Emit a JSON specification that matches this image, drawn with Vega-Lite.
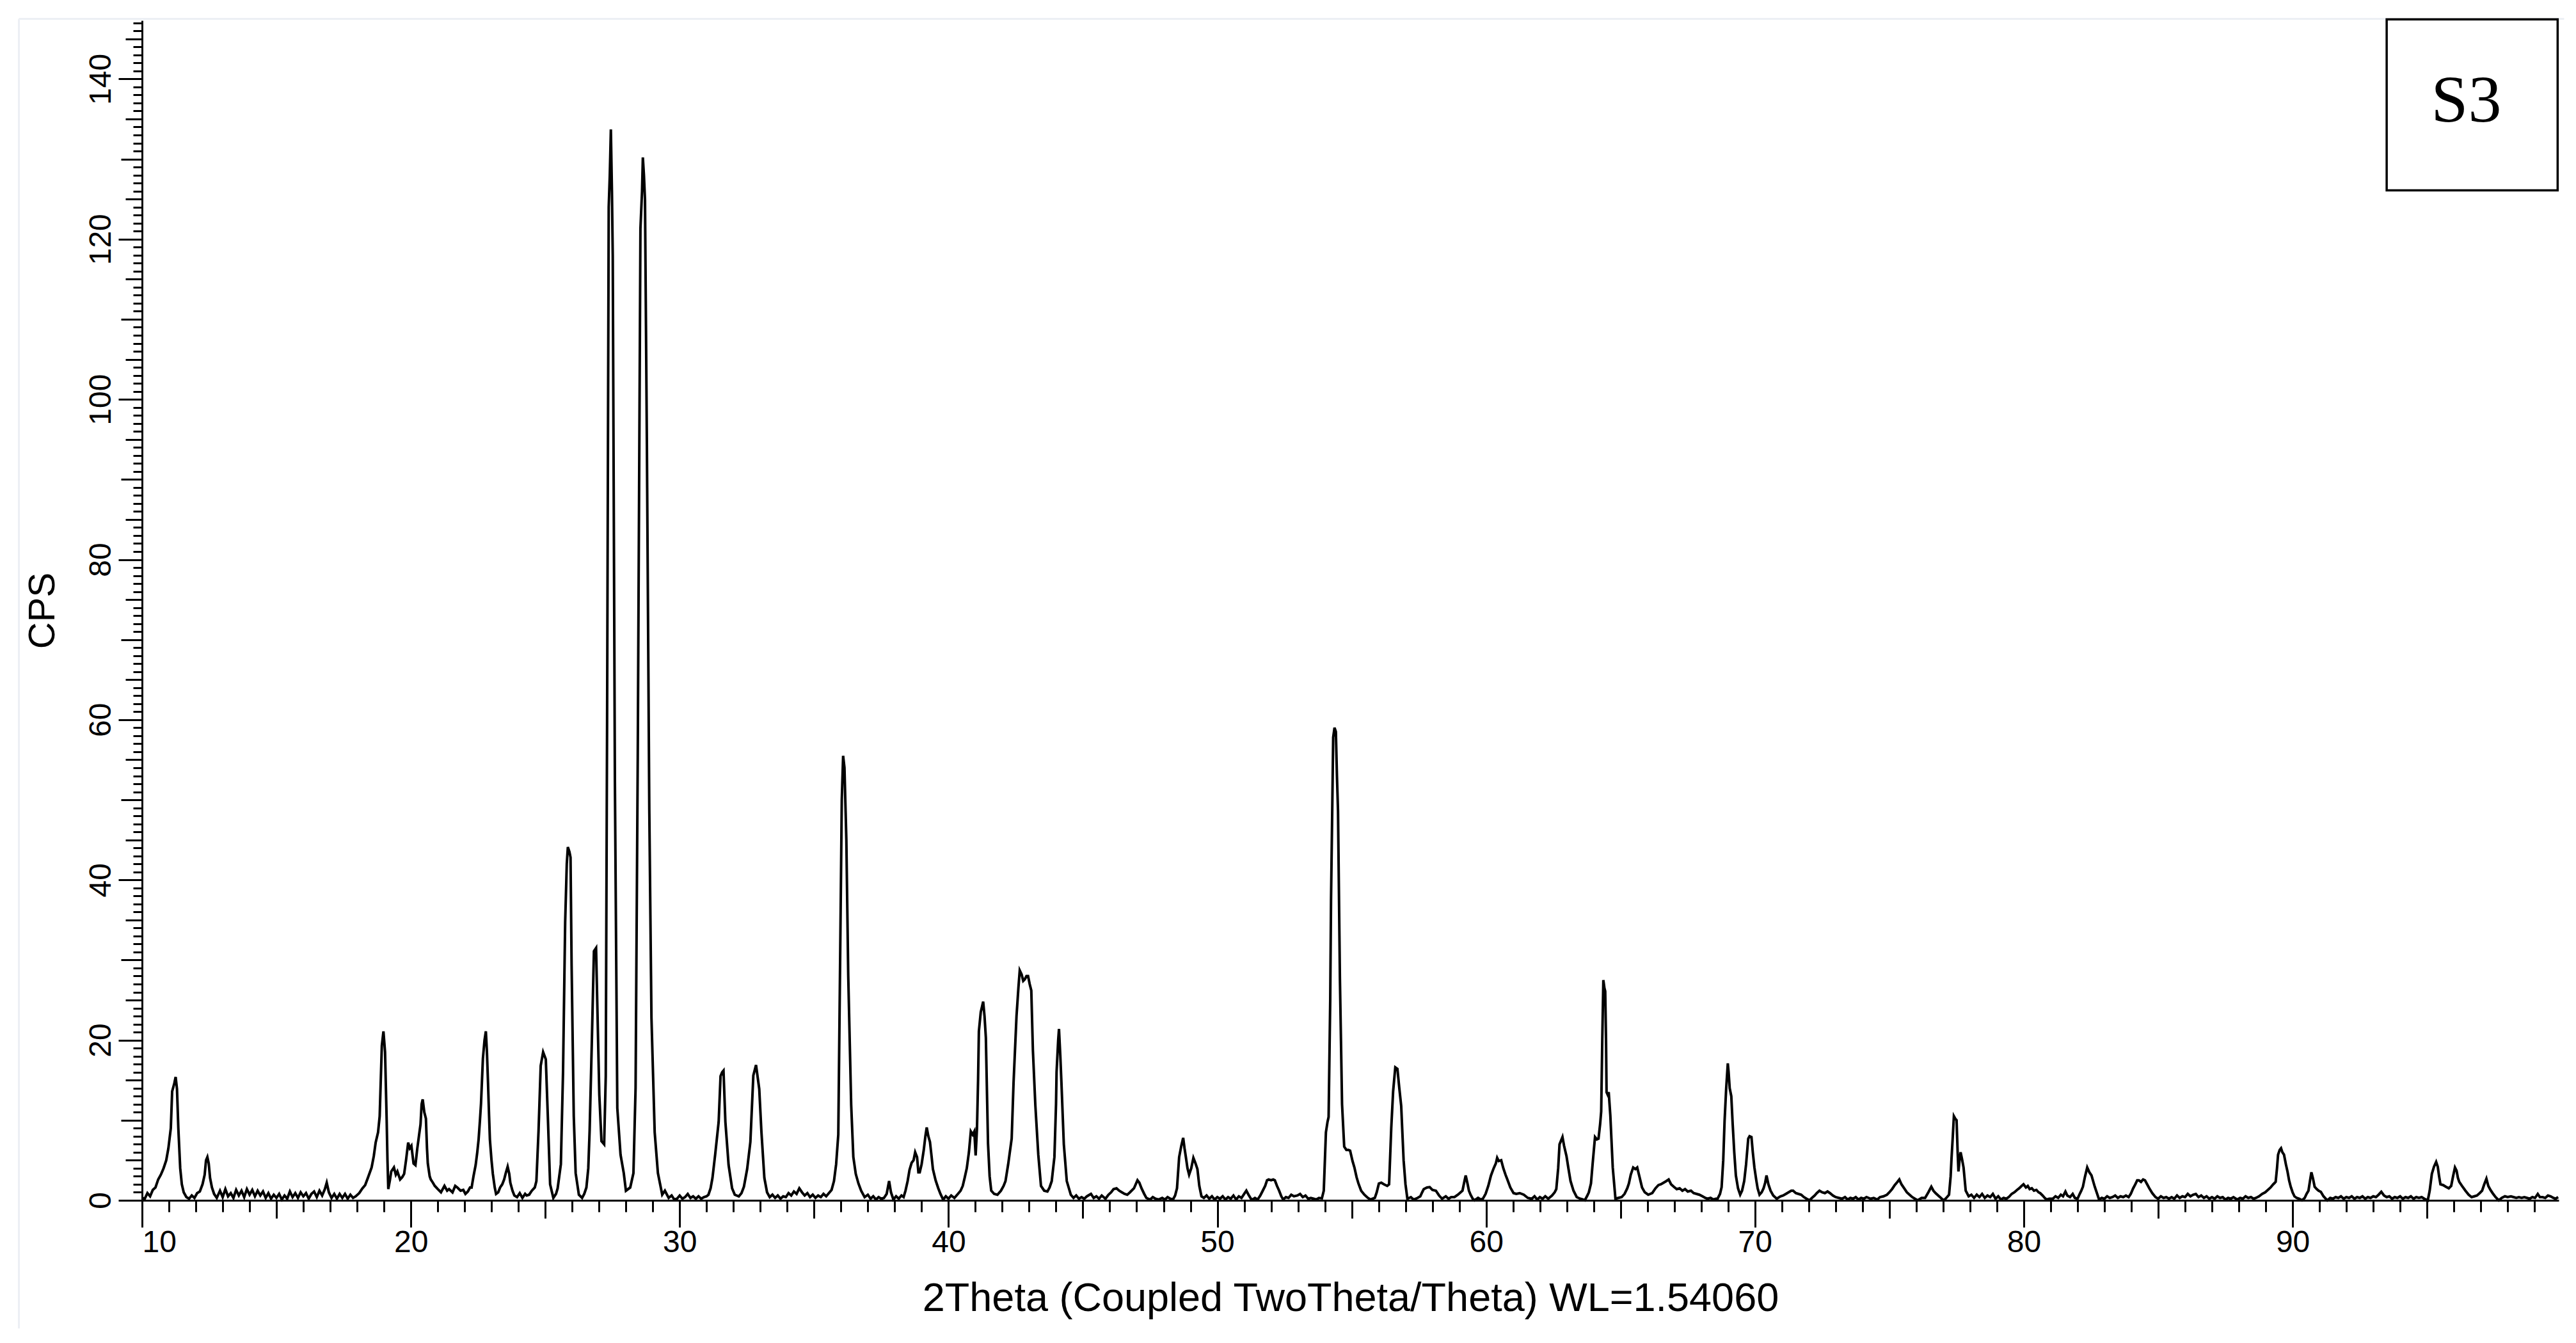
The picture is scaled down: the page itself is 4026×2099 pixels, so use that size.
{
  "$schema": "https://vega.github.io/schema/vega-lite/v6.json",
  "width": 3777,
  "height": 1844,
  "autosize": {"type": "none"},
  "padding": {"left": 222, "top": 32, "right": 27, "bottom": 223},
  "background": "white",
  "config": {"view": {"stroke": null}, "axis": {"grid": false}},
  "encoding": {
    "x": {
      "field": "x", "type": "quantitative",
      "scale": {"domain": [10, 99.9], "nice": false, "zero": false},
      "axis": {
        "values": [10,11,12,13,14,15,16,17,18,19,20,21,22,23,24,25,26,27,28,29,30,31,32,33,34,35,36,37,38,39,40,41,42,43,44,45,46,47,48,49,50,51,52,53,54,55,56,57,58,59,60,61,62,63,64,65,66,67,68,69,70,71,72,73,74,75,76,77,78,79,80,81,82,83,84,85,86,87,88,89,90,91,92,93,94,95,96,97,98,99],
        "domainColor": "black", "domainWidth": 3,
        "tickColor": "black", "tickWidth": 3,
        "tickSize": {"condition": [{"test": "datum.value % 10 === 0", "value": 42}, {"test": "datum.value % 5 === 0", "value": 28}], "value": 18},
        "labelExpr": "datum.value % 10 === 0 ? datum.label : ''",
        "labelAlign": {"condition": {"test": "datum.value === 10", "value": "left"}, "value": "center"},
        "labelBaseline": "top",
        "labelFont": "Liberation Sans, sans-serif",
        "labelFontSize": 48, "labelColor": "black",
        "labelPadding": 0, "labelOverlap": false, "labelFlush": false, "labelBound": false,
        "title": "2Theta (Coupled TwoTheta/Theta) WL=1.54060",
        "titleFont": "Liberation Sans, sans-serif", "titleFontSize": 63,
        "titleFontWeight": "normal", "titleColor": "black", "titlePadding": 32
      }
    },
    "y": {
      "field": "y", "type": "quantitative",
      "scale": {"domain": [0, 147.3], "nice": false, "zero": false},
      "axis": {
        "values": [0,1,2,3,4,5,6,7,8,9,10,11,12,13,14,15,16,17,18,19,20,21,22,23,24,25,26,27,28,29,30,31,32,33,34,35,36,37,38,39,40,41,42,43,44,45,46,47,48,49,50,51,52,53,54,55,56,57,58,59,60,61,62,63,64,65,66,67,68,69,70,71,72,73,74,75,76,77,78,79,80,81,82,83,84,85,86,87,88,89,90,91,92,93,94,95,96,97,98,99,100,101,102,103,104,105,106,107,108,109,110,111,112,113,114,115,116,117,118,119,120,121,122,123,124,125,126,127,128,129,130,131,132,133,134,135,136,137,138,139,140,141,142,143,144,145,146,147],
        "domainColor": "black", "domainWidth": 3,
        "tickColor": "black", "tickWidth": 3,
        "tickSize": {"condition": [{"test": "datum.value % 20 === 0", "value": 37}, {"test": "datum.value % 10 === 0", "value": 33}, {"test": "datum.value % 5 === 0", "value": 26}], "value": 14},
        "labelExpr": "datum.value % 20 === 0 ? datum.label : ''",
        "labelAngle": -90, "labelAlign": "center", "labelBaseline": "alphabetic",
        "labelFont": "Liberation Sans, sans-serif",
        "labelFontSize": 48, "labelColor": "black",
        "labelPadding": 13, "labelOverlap": false, "labelFlush": false, "labelBound": false,
        "title": "CPS",
        "titleFont": "Liberation Sans, sans-serif", "titleFontSize": 58,
        "titleFontWeight": "normal", "titleColor": "black", "titlePadding": 38
      }
    }
  },
  "layer": [
    {
      "data": {"values": [
        {"x": 5.42, "x2": 100.1, "y": 147.5, "y2": 147.5},
        {"x": 5.42, "x2": 5.42, "y": -16, "y2": 147.5}
      ]},
      "mark": {"type": "rule", "color": "#eceff4", "strokeWidth": 3, "clip": false},
      "encoding": {"x2": {"field": "x2"}, "y2": {"field": "y2"}}
    },
    {
      "data": {"values": [
{"x":10.00,"y":0.3},{"x":10.10,"y":0.2},{"x":10.20,"y":0.9},{"x":10.30,"y":0.5},{"x":10.40,"y":1.3},{"x":10.50,"y":1.6},{"x":10.60,"y":2.6},{"x":10.70,"y":3.2},{"x":10.80,"y":4.0},{"x":10.90,"y":5.0},{"x":10.98,"y":6.5},{"x":11.07,"y":9.0},{"x":11.12,"y":13.6},{"x":11.20,"y":14.6},{"x":11.25,"y":15.4},{"x":11.30,"y":13.9},{"x":11.35,"y":9.0},{"x":11.42,"y":4.0},{"x":11.48,"y":2.0},{"x":11.55,"y":1.0},{"x":11.65,"y":0.4},{"x":11.75,"y":0.2},{"x":11.85,"y":0.6},{"x":11.95,"y":0.3},{"x":12.05,"y":0.9},{"x":12.15,"y":1.1},{"x":12.25,"y":2.0},{"x":12.33,"y":3.2},{"x":12.38,"y":5.0},{"x":12.43,"y":5.4},{"x":12.48,"y":4.6},{"x":12.53,"y":2.8},{"x":12.60,"y":1.6},{"x":12.68,"y":0.8},{"x":12.78,"y":0.3},{"x":12.90,"y":1.2},{"x":13.00,"y":0.4},{"x":13.10,"y":1.4},{"x":13.20,"y":0.5},{"x":13.30,"y":0.9},{"x":13.40,"y":0.3},{"x":13.50,"y":1.3},{"x":13.60,"y":0.6},{"x":13.70,"y":1.2},{"x":13.80,"y":0.4},{"x":13.90,"y":1.4},{"x":14.00,"y":0.7},{"x":14.10,"y":1.3},{"x":14.20,"y":0.5},{"x":14.30,"y":1.2},{"x":14.40,"y":0.6},{"x":14.50,"y":1.1},{"x":14.60,"y":0.3},{"x":14.70,"y":0.9},{"x":14.80,"y":0.2},{"x":14.90,"y":0.7},{"x":15.00,"y":0.3},{"x":15.10,"y":0.8},{"x":15.20,"y":0.1},{"x":15.30,"y":0.6},{"x":15.40,"y":0.2},{"x":15.50,"y":1.1},{"x":15.60,"y":0.4},{"x":15.70,"y":0.9},{"x":15.80,"y":0.3},{"x":15.90,"y":1.0},{"x":16.00,"y":0.5},{"x":16.10,"y":0.9},{"x":16.20,"y":0.2},{"x":16.30,"y":0.8},{"x":16.40,"y":1.1},{"x":16.50,"y":0.4},{"x":16.60,"y":1.2},{"x":16.70,"y":0.6},{"x":16.80,"y":1.4},{"x":16.87,"y":2.2},{"x":16.95,"y":1.0},{"x":17.05,"y":0.3},{"x":17.15,"y":0.8},{"x":17.25,"y":0.2},{"x":17.35,"y":0.8},{"x":17.45,"y":0.3},{"x":17.55,"y":0.8},{"x":17.65,"y":0.2},{"x":17.75,"y":0.7},{"x":17.85,"y":0.3},{"x":17.95,"y":0.5},
{"x":18.08,"y":0.9},{"x":18.20,"y":1.5},{"x":18.30,"y":1.9},{"x":18.40,"y":2.8},{"x":18.54,"y":4.1},{"x":18.62,"y":5.5},{"x":18.69,"y":7.2},{"x":18.78,"y":8.5},{"x":18.84,"y":10.5},{"x":18.92,"y":19.3},{"x":18.98,"y":21.1},{"x":19.04,"y":18.5},{"x":19.10,"y":10.0},{"x":19.13,"y":5.0},{"x":19.16,"y":1.4},{"x":19.22,"y":2.5},{"x":19.27,"y":3.6},{"x":19.37,"y":4.1},{"x":19.44,"y":3.2},{"x":19.50,"y":3.6},{"x":19.60,"y":2.6},{"x":19.68,"y":2.9},{"x":19.75,"y":3.3},{"x":19.82,"y":5.0},{"x":19.90,"y":7.2},{"x":19.96,"y":6.5},{"x":20.02,"y":6.8},{"x":20.10,"y":4.6},{"x":20.17,"y":4.4},{"x":20.24,"y":6.5},{"x":20.30,"y":8.0},{"x":20.36,"y":9.5},{"x":20.40,"y":12.0},{"x":20.44,"y":12.6},{"x":20.50,"y":11.0},{"x":20.56,"y":10.2},{"x":20.60,"y":6.5},{"x":20.63,"y":4.6},{"x":20.70,"y":3.0},{"x":20.74,"y":2.6},{"x":20.82,"y":2.2},{"x":20.89,"y":1.8},{"x":21.00,"y":1.4},{"x":21.12,"y":1.0},{"x":21.25,"y":1.8},{"x":21.35,"y":1.2},{"x":21.42,"y":1.4},{"x":21.55,"y":1.0},{"x":21.65,"y":1.8},{"x":21.73,"y":1.6},{"x":21.85,"y":1.2},{"x":21.95,"y":1.3},{"x":22.03,"y":0.8},{"x":22.12,"y":1.1},{"x":22.20,"y":1.6},{"x":22.26,"y":1.6},{"x":22.33,"y":3.0},{"x":22.41,"y":4.4},{"x":22.47,"y":6.0},{"x":22.52,"y":7.6},{"x":22.57,"y":10.0},{"x":22.61,"y":12.1},{"x":22.68,"y":17.7},{"x":22.74,"y":20.0},{"x":22.79,"y":21.1},{"x":22.83,"y":18.5},{"x":22.87,"y":14.7},{"x":22.91,"y":10.5},{"x":22.94,"y":7.6},{"x":23.00,"y":5.0},{"x":23.05,"y":3.3},{"x":23.12,"y":1.6},{"x":23.17,"y":0.8},{"x":23.25,"y":1.0},{"x":23.32,"y":1.6},{"x":23.40,"y":2.0},{"x":23.47,"y":2.6},{"x":23.53,"y":3.4},{"x":23.60,"y":4.2},{"x":23.66,"y":3.3},{"x":23.70,"y":2.2},{"x":23.78,"y":1.2},{"x":23.85,"y":0.6},{"x":23.95,"y":0.4},{"x":24.05,"y":0.9},{"x":24.15,"y":0.3},{"x":24.25,"y":0.8},{"x":24.31,"y":0.6},{"x":24.40,"y":0.7},{"x":24.50,"y":1.2},{"x":24.61,"y":1.6},{"x":24.67,"y":2.4},{"x":24.75,"y":8.7},{"x":24.83,"y":16.8},{"x":24.92,"y":18.5},{"x":25.02,"y":17.6},{"x":25.10,"y":10.0},{"x":25.18,"y":2.0},{"x":25.30,"y":0.3},{"x":25.40,"y":0.8},{"x":25.46,"y":1.5},{"x":25.52,"y":3.0},{"x":25.58,"y":4.5},{"x":25.66,"y":15.9},{"x":25.74,"y":34.7},{"x":25.80,"y":42.0},{"x":25.84,"y":44.1},{"x":25.90,"y":43.5},{"x":25.94,"y":42.8},{"x":25.98,"y":29.3},{"x":26.06,"y":10.5},{"x":26.13,"y":3.4},{"x":26.25,"y":0.7},{"x":26.37,"y":0.3},{"x":26.45,"y":0.8},{"x":26.53,"y":1.6},{"x":26.60,"y":4.0},{"x":26.65,"y":8.7},{"x":26.73,"y":19.5},{"x":26.81,"y":31.1},{"x":26.89,"y":31.5},{"x":26.93,"y":25.3},{"x":27.01,"y":13.2},{"x":27.09,"y":7.4},{"x":27.19,"y":7.0},{"x":27.25,"y":15.5},{"x":27.30,"y":59.9},{"x":27.36,"y":124.0},{"x":27.40,"y":128.0},{"x":27.44,"y":133.7},{"x":27.48,"y":126.0},{"x":27.51,"y":118.0},{"x":27.59,"y":52.3},{"x":27.68,"y":11.5},{"x":27.80,"y":5.7},{"x":27.92,"y":3.4},{"x":28.00,"y":1.2},{"x":28.16,"y":1.6},{"x":28.28,"y":3.4},{"x":28.36,"y":14.1},{"x":28.44,"y":55.3},{"x":28.54,"y":121.3},{"x":28.60,"y":126.0},{"x":28.63,"y":130.2},{"x":28.67,"y":128.0},{"x":28.71,"y":124.9},{"x":28.78,"y":94.4},{"x":28.87,"y":48.7},{"x":28.95,"y":22.8},{"x":29.07,"y":8.5},{"x":29.19,"y":3.4},{"x":29.35,"y":0.7},{"x":29.45,"y":1.2},{"x":29.59,"y":0.3},{"x":29.70,"y":0.6},{"x":29.80,"y":0.1},{"x":29.90,"y":0.2},
{"x":30.00,"y":0.6},{"x":30.10,"y":0.2},{"x":30.20,"y":0.4},{"x":30.30,"y":0.8},{"x":30.40,"y":0.3},{"x":30.50,"y":0.5},{"x":30.60,"y":0.2},{"x":30.70,"y":0.5},{"x":30.80,"y":0.2},{"x":30.90,"y":0.4},{"x":31.00,"y":0.5},{"x":31.07,"y":0.7},{"x":31.15,"y":1.5},{"x":31.22,"y":2.8},{"x":31.32,"y":5.7},{"x":31.45,"y":9.8},{"x":31.52,"y":15.5},{"x":31.58,"y":16.0},{"x":31.63,"y":16.2},{"x":31.70,"y":9.8},{"x":31.82,"y":4.4},{"x":31.95,"y":1.5},{"x":32.05,"y":0.7},{"x":32.20,"y":0.5},{"x":32.30,"y":0.9},{"x":32.39,"y":1.7},{"x":32.51,"y":3.9},{"x":32.63,"y":7.3},{"x":32.74,"y":15.6},{"x":32.84,"y":16.9},{"x":32.96,"y":13.9},{"x":33.04,"y":8.6},{"x":33.15,"y":2.8},{"x":33.25,"y":1.0},{"x":33.35,"y":0.4},{"x":33.45,"y":0.7},{"x":33.55,"y":0.3},{"x":33.65,"y":0.6},{"x":33.75,"y":0.2},{"x":33.85,"y":0.5},{"x":33.95,"y":0.4},{"x":34.05,"y":0.9},{"x":34.15,"y":0.6},{"x":34.25,"y":1.1},{"x":34.35,"y":0.8},{"x":34.45,"y":1.5},{"x":34.55,"y":1.0},{"x":34.65,"y":0.6},{"x":34.75,"y":0.9},{"x":34.85,"y":0.4},{"x":34.95,"y":0.7},{"x":35.05,"y":0.3},{"x":35.15,"y":0.6},{"x":35.25,"y":0.4},{"x":35.35,"y":0.8},{"x":35.45,"y":0.5},{"x":35.55,"y":0.9},{"x":35.65,"y":1.3},{"x":35.74,"y":2.4},{"x":35.82,"y":4.5},{"x":35.90,"y":8.2},{"x":35.97,"y":30.4},{"x":36.03,"y":50.0},{"x":36.08,"y":55.5},{"x":36.13,"y":54.0},{"x":36.20,"y":45.0},{"x":36.27,"y":28.1},{"x":36.38,"y":11.9},{"x":36.46,"y":5.4},{"x":36.55,"y":3.3},{"x":36.65,"y":2.1},{"x":36.75,"y":1.2},{"x":36.88,"y":0.4},{"x":37.00,"y":0.7},{"x":37.10,"y":0.2},{"x":37.20,"y":0.5},{"x":37.30,"y":0.1},{"x":37.40,"y":0.4},{"x":37.50,"y":0.2},{"x":37.60,"y":0.3},{"x":37.70,"y":0.8},{"x":37.79,"y":2.4},{"x":37.86,"y":1.0},{"x":37.95,"y":0.1},{"x":38.05,"y":0.5},{"x":38.15,"y":0.2},{"x":38.25,"y":0.6},{"x":38.33,"y":0.4},{"x":38.40,"y":1.2},{"x":38.48,"y":2.4},{"x":38.55,"y":3.8},{"x":38.63,"y":4.7},{"x":38.70,"y":5.0},{"x":38.76,"y":6.0},{"x":38.83,"y":5.4},{"x":38.88,"y":3.5},{"x":38.93,"y":3.5},{"x":39.00,"y":4.5},{"x":39.08,"y":6.3},{"x":39.14,"y":8.0},{"x":39.19,"y":9.1},{"x":39.25,"y":8.0},{"x":39.31,"y":7.3},{"x":39.37,"y":5.5},{"x":39.42,"y":3.9},{"x":39.52,"y":2.5},{"x":39.62,"y":1.5},{"x":39.70,"y":0.8},{"x":39.80,"y":0.1},{"x":39.90,"y":0.5},
{"x":40.00,"y":0.2},{"x":40.10,"y":0.6},{"x":40.22,"y":0.3},{"x":40.35,"y":0.8},{"x":40.45,"y":1.2},{"x":40.53,"y":1.8},{"x":40.60,"y":2.8},{"x":40.68,"y":4.0},{"x":40.76,"y":6.0},{"x":40.83,"y":8.6},{"x":40.90,"y":8.2},{"x":40.96,"y":8.6},{"x":41.01,"y":5.6},{"x":41.06,"y":9.0},{"x":41.10,"y":15.0},{"x":41.13,"y":21.1},{"x":41.20,"y":23.5},{"x":41.29,"y":24.8},{"x":41.34,"y":23.0},{"x":41.39,"y":20.3},{"x":41.44,"y":12.0},{"x":41.47,"y":7.1},{"x":41.53,"y":3.0},{"x":41.59,"y":1.2},{"x":41.70,"y":0.8},{"x":41.82,"y":0.7},{"x":41.95,"y":1.2},{"x":42.05,"y":1.8},{"x":42.12,"y":2.4},{"x":42.22,"y":4.5},{"x":42.35,"y":7.7},{"x":42.42,"y":14.7},{"x":42.53,"y":23.0},{"x":42.60,"y":26.5},{"x":42.65,"y":28.7},{"x":42.72,"y":28.2},{"x":42.78,"y":27.4},{"x":42.84,"y":27.6},{"x":42.90,"y":28.0},{"x":42.96,"y":28.0},{"x":43.02,"y":27.0},{"x":43.08,"y":26.2},{"x":43.14,"y":18.7},{"x":43.23,"y":11.9},{"x":43.34,"y":5.7},{"x":43.44,"y":1.8},{"x":43.56,"y":1.2},{"x":43.68,"y":1.1},{"x":43.76,"y":1.6},{"x":43.84,"y":2.4},{"x":43.94,"y":5.4},{"x":44.00,"y":12.0},{"x":44.02,"y":16.0},{"x":44.08,"y":20.0},{"x":44.11,"y":21.4},{"x":44.16,"y":18.0},{"x":44.20,"y":14.8},{"x":44.29,"y":7.0},{"x":44.40,"y":2.4},{"x":44.55,"y":0.7},{"x":44.65,"y":0.3},{"x":44.75,"y":0.6},{"x":44.85,"y":0.2},{"x":44.95,"y":0.4},{"x":45.05,"y":0.2},{"x":45.15,"y":0.5},{"x":45.30,"y":0.8},{"x":45.40,"y":0.3},{"x":45.50,"y":0.5},{"x":45.60,"y":0.2},{"x":45.70,"y":0.6},{"x":45.84,"y":0.2},{"x":45.95,"y":0.7},{"x":46.05,"y":1.0},{"x":46.14,"y":1.4},{"x":46.25,"y":1.5},{"x":46.35,"y":1.2},{"x":46.45,"y":1.0},{"x":46.55,"y":0.8},{"x":46.65,"y":0.7},{"x":46.75,"y":1.0},{"x":46.90,"y":1.5},{"x":47.03,"y":2.5},{"x":47.10,"y":2.2},{"x":47.18,"y":1.5},{"x":47.28,"y":0.8},{"x":47.36,"y":0.3},{"x":47.50,"y":0.1},{"x":47.60,"y":0.4},{"x":47.70,"y":0.2},{"x":47.81,"y":0.1},{"x":47.95,"y":0.3},{"x":48.05,"y":0.1},{"x":48.15,"y":0.4},{"x":48.25,"y":0.2},{"x":48.35,"y":0.1},{"x":48.43,"y":0.6},{"x":48.50,"y":1.5},{"x":48.58,"y":5.4},{"x":48.66,"y":6.8},{"x":48.73,"y":7.8},{"x":48.78,"y":6.5},{"x":48.83,"y":5.4},{"x":48.89,"y":4.0},{"x":48.95,"y":3.2},{"x":49.03,"y":4.0},{"x":49.11,"y":5.3},{"x":49.18,"y":4.7},{"x":49.26,"y":3.9},{"x":49.33,"y":1.8},{"x":49.41,"y":0.5},{"x":49.50,"y":0.3},{"x":49.60,"y":0.6},{"x":49.70,"y":0.2},{"x":49.80,"y":0.5},{"x":49.90,"y":0.1},
{"x":50.00,"y":0.4},{"x":50.10,"y":0.2},{"x":50.20,"y":0.5},{"x":50.30,"y":0.1},{"x":50.40,"y":0.4},{"x":50.50,"y":0.2},{"x":50.60,"y":0.6},{"x":50.70,"y":0.1},{"x":50.80,"y":0.5},{"x":50.90,"y":0.3},{"x":51.00,"y":0.8},{"x":51.08,"y":1.2},{"x":51.16,"y":0.7},{"x":51.25,"y":0.2},{"x":51.31,"y":0.1},{"x":51.40,"y":0.3},{"x":51.50,"y":0.1},{"x":51.60,"y":0.6},{"x":51.69,"y":1.2},{"x":51.78,"y":1.8},{"x":51.85,"y":2.5},{"x":51.91,"y":2.6},{"x":52.00,"y":2.5},{"x":52.08,"y":2.6},{"x":52.14,"y":2.5},{"x":52.22,"y":1.8},{"x":52.30,"y":1.2},{"x":52.38,"y":0.5},{"x":52.45,"y":0.1},{"x":52.55,"y":0.4},{"x":52.65,"y":0.3},{"x":52.75,"y":0.7},{"x":52.85,"y":0.5},{"x":52.98,"y":0.6},{"x":53.08,"y":0.8},{"x":53.18,"y":0.4},{"x":53.28,"y":0.6},{"x":53.38,"y":0.2},{"x":53.48,"y":0.3},{"x":53.58,"y":0.2},{"x":53.68,"y":0.1},{"x":53.78,"y":0.3},{"x":53.89,"y":0.25},{"x":53.96,"y":1.2},{"x":54.04,"y":8.5},{"x":54.10,"y":9.8},{"x":54.14,"y":10.4},{"x":54.20,"y":25.0},{"x":54.23,"y":37.5},{"x":54.28,"y":50.0},{"x":54.31,"y":57.8},{"x":54.36,"y":59.0},{"x":54.41,"y":58.5},{"x":54.45,"y":53.0},{"x":54.49,"y":48.6},{"x":54.56,"y":27.8},{"x":54.64,"y":12.0},{"x":54.72,"y":6.7},{"x":54.80,"y":6.3},{"x":54.88,"y":6.3},{"x":54.94,"y":6.2},{"x":55.03,"y":4.9},{"x":55.10,"y":4.1},{"x":55.18,"y":2.9},{"x":55.25,"y":2.1},{"x":55.35,"y":1.2},{"x":55.47,"y":0.7},{"x":55.60,"y":0.3},{"x":55.70,"y":0.1},{"x":55.78,"y":0.2},{"x":55.86,"y":0.3},{"x":55.93,"y":1.0},{"x":56.01,"y":2.1},{"x":56.10,"y":2.2},{"x":56.20,"y":2.0},{"x":56.32,"y":1.8},{"x":56.39,"y":2.0},{"x":56.47,"y":9.0},{"x":56.54,"y":13.6},{"x":56.62,"y":16.6},{"x":56.70,"y":16.4},{"x":56.77,"y":14.0},{"x":56.84,"y":11.8},{"x":56.93,"y":5.0},{"x":57.00,"y":2.0},{"x":57.07,"y":0.2},{"x":57.20,"y":0.4},{"x":57.30,"y":0.1},{"x":57.45,"y":0.3},{"x":57.55,"y":0.5},{"x":57.62,"y":1.0},{"x":57.68,"y":1.4},{"x":57.80,"y":1.6},{"x":57.90,"y":1.65},{"x":58.00,"y":1.3},{"x":58.13,"y":1.2},{"x":58.25,"y":0.6},{"x":58.36,"y":0.2},{"x":58.50,"y":0.5},{"x":58.60,"y":0.2},{"x":58.70,"y":0.4},{"x":58.82,"y":0.4},{"x":58.95,"y":0.7},{"x":59.05,"y":1.0},{"x":59.12,"y":1.2},{"x":59.20,"y":2.5},{"x":59.24,"y":3.1},{"x":59.30,"y":2.2},{"x":59.36,"y":1.2},{"x":59.42,"y":0.7},{"x":59.50,"y":0.2},{"x":59.57,"y":0.0},{"x":59.70,"y":0.3},{"x":59.80,"y":0.1},{"x":59.88,"y":0.2},{"x":59.98,"y":0.8},
{"x":60.08,"y":1.8},{"x":60.18,"y":3.1},{"x":60.28,"y":4.0},{"x":60.36,"y":4.6},{"x":60.41,"y":5.3},{"x":60.47,"y":4.9},{"x":60.56,"y":5.0},{"x":60.64,"y":4.0},{"x":60.72,"y":3.2},{"x":60.79,"y":2.6},{"x":60.90,"y":1.6},{"x":61.02,"y":0.9},{"x":61.12,"y":0.8},{"x":61.25,"y":0.9},{"x":61.40,"y":0.7},{"x":61.55,"y":0.3},{"x":61.70,"y":0.2},{"x":61.80,"y":0.5},{"x":61.90,"y":0.1},{"x":62.00,"y":0.4},{"x":62.10,"y":0.2},{"x":62.20,"y":0.5},{"x":62.31,"y":0.2},{"x":62.45,"y":0.6},{"x":62.55,"y":1.0},{"x":62.61,"y":1.4},{"x":62.68,"y":4.0},{"x":62.73,"y":7.0},{"x":62.78,"y":7.4},{"x":62.84,"y":7.9},{"x":62.90,"y":6.8},{"x":62.99,"y":5.5},{"x":63.06,"y":4.0},{"x":63.14,"y":2.4},{"x":63.25,"y":1.2},{"x":63.37,"y":0.4},{"x":63.50,"y":0.2},{"x":63.60,"y":0.1},{"x":63.67,"y":0.0},{"x":63.75,"y":0.5},{"x":63.82,"y":1.0},{"x":63.90,"y":2.1},{"x":63.96,"y":4.5},{"x":64.05,"y":7.9},{"x":64.12,"y":7.6},{"x":64.18,"y":7.7},{"x":64.24,"y":9.5},{"x":64.28,"y":11.1},{"x":64.32,"y":20.0},{"x":64.36,"y":27.5},{"x":64.40,"y":26.5},{"x":64.43,"y":26.1},{"x":64.46,"y":20.0},{"x":64.48,"y":13.5},{"x":64.52,"y":13.2},{"x":64.56,"y":13.5},{"x":64.62,"y":10.6},{"x":64.71,"y":4.1},{"x":64.81,"y":0.2},{"x":64.92,"y":0.3},{"x":65.04,"y":0.4},{"x":65.15,"y":0.8},{"x":65.25,"y":1.5},{"x":65.31,"y":2.1},{"x":65.38,"y":3.2},{"x":65.47,"y":4.1},{"x":65.55,"y":3.9},{"x":65.62,"y":4.1},{"x":65.70,"y":3.0},{"x":65.80,"y":1.6},{"x":65.90,"y":1.0},{"x":66.03,"y":0.7},{"x":66.18,"y":0.9},{"x":66.30,"y":1.5},{"x":66.41,"y":1.9},{"x":66.50,"y":2.0},{"x":66.60,"y":2.2},{"x":66.70,"y":2.4},{"x":66.79,"y":2.6},{"x":66.88,"y":2.0},{"x":66.98,"y":1.7},{"x":67.09,"y":1.4},{"x":67.20,"y":1.5},{"x":67.30,"y":1.2},{"x":67.40,"y":1.4},{"x":67.50,"y":1.1},{"x":67.62,"y":1.2},{"x":67.72,"y":0.9},{"x":67.83,"y":0.8},{"x":67.93,"y":0.7},{"x":68.05,"y":0.5},{"x":68.15,"y":0.3},{"x":68.23,"y":0.2},{"x":68.35,"y":0.3},{"x":68.45,"y":0.1},{"x":68.55,"y":0.2},{"x":68.61,"y":0.2},{"x":68.70,"y":0.8},{"x":68.76,"y":1.65},{"x":68.82,"y":5.0},{"x":68.87,"y":9.9},{"x":68.93,"y":14.0},{"x":68.99,"y":17.1},{"x":69.02,"y":16.0},{"x":69.06,"y":14.0},{"x":69.12,"y":13.0},{"x":69.17,"y":9.6},{"x":69.23,"y":6.0},{"x":69.29,"y":3.1},{"x":69.37,"y":1.5},{"x":69.45,"y":0.7},{"x":69.52,"y":1.2},{"x":69.60,"y":2.4},{"x":69.67,"y":4.5},{"x":69.75,"y":7.7},{"x":69.80,"y":8.0},{"x":69.87,"y":7.9},{"x":69.92,"y":6.0},{"x":69.98,"y":4.1},
{"x":70.05,"y":2.5},{"x":70.10,"y":1.5},{"x":70.17,"y":0.7},{"x":70.25,"y":1.0},{"x":70.32,"y":1.5},{"x":70.38,"y":2.2},{"x":70.43,"y":3.1},{"x":70.50,"y":2.0},{"x":70.58,"y":1.2},{"x":70.68,"y":0.6},{"x":70.81,"y":0.2},{"x":70.95,"y":0.5},{"x":71.05,"y":0.6},{"x":71.15,"y":0.8},{"x":71.25,"y":1.0},{"x":71.35,"y":1.2},{"x":71.42,"y":1.2},{"x":71.52,"y":0.9},{"x":71.62,"y":0.8},{"x":71.72,"y":0.7},{"x":71.82,"y":0.4},{"x":71.92,"y":0.2},{"x":72.03,"y":0.0},{"x":72.12,"y":0.3},{"x":72.22,"y":0.6},{"x":72.30,"y":0.9},{"x":72.40,"y":1.2},{"x":72.50,"y":1.0},{"x":72.60,"y":0.9},{"x":72.70,"y":1.1},{"x":72.79,"y":0.9},{"x":72.90,"y":0.6},{"x":73.00,"y":0.4},{"x":73.12,"y":0.3},{"x":73.24,"y":0.2},{"x":73.35,"y":0.4},{"x":73.45,"y":0.1},{"x":73.55,"y":0.3},{"x":73.65,"y":0.2},{"x":73.75,"y":0.4},{"x":73.85,"y":0.1},{"x":73.95,"y":0.3},{"x":74.05,"y":0.2},{"x":74.15,"y":0.4},{"x":74.30,"y":0.2},{"x":74.42,"y":0.3},{"x":74.55,"y":0.1},{"x":74.65,"y":0.4},{"x":74.78,"y":0.5},{"x":74.91,"y":0.7},{"x":75.00,"y":1.0},{"x":75.10,"y":1.4},{"x":75.20,"y":1.9},{"x":75.30,"y":2.3},{"x":75.37,"y":2.6},{"x":75.45,"y":2.0},{"x":75.55,"y":1.5},{"x":75.65,"y":1.0},{"x":75.75,"y":0.7},{"x":75.85,"y":0.4},{"x":75.95,"y":0.2},{"x":76.05,"y":0.0},{"x":76.20,"y":0.3},{"x":76.33,"y":0.3},{"x":76.45,"y":1.0},{"x":76.56,"y":1.7},{"x":76.64,"y":1.2},{"x":76.72,"y":0.9},{"x":76.85,"y":0.5},{"x":76.95,"y":0.2},{"x":77.03,"y":0.0},{"x":77.12,"y":0.3},{"x":77.22,"y":0.7},{"x":77.28,"y":3.0},{"x":77.31,"y":5.1},{"x":77.36,"y":8.0},{"x":77.40,"y":10.5},{"x":77.45,"y":10.2},{"x":77.50,"y":10.0},{"x":77.54,"y":6.0},{"x":77.57,"y":3.6},{"x":77.61,"y":5.0},{"x":77.65,"y":6.0},{"x":77.70,"y":5.2},{"x":77.76,"y":4.1},{"x":77.84,"y":1.2},{"x":77.95,"y":0.5},{"x":78.05,"y":0.7},{"x":78.15,"y":0.3},{"x":78.25,"y":0.7},{"x":78.35,"y":0.4},{"x":78.45,"y":0.8},{"x":78.55,"y":0.3},{"x":78.65,"y":0.6},{"x":78.75,"y":0.4},{"x":78.85,"y":0.8},{"x":78.95,"y":0.2},{"x":79.05,"y":0.5},{"x":79.15,"y":0.1},{"x":79.25,"y":0.3},{"x":79.35,"y":0.2},{"x":79.44,"y":0.4},{"x":79.55,"y":0.8},{"x":79.65,"y":1.0},{"x":79.75,"y":1.3},{"x":79.83,"y":1.5},{"x":79.92,"y":1.8},{"x":79.99,"y":2.0},
{"x":80.08,"y":1.6},{"x":80.15,"y":1.8},{"x":80.22,"y":1.4},{"x":80.30,"y":1.5},{"x":80.38,"y":1.2},{"x":80.47,"y":1.3},{"x":80.55,"y":1.0},{"x":80.61,"y":0.9},{"x":80.70,"y":0.6},{"x":80.78,"y":0.3},{"x":80.85,"y":0.1},{"x":80.95,"y":0.2},{"x":81.08,"y":0.2},{"x":81.18,"y":0.5},{"x":81.28,"y":0.3},{"x":81.38,"y":0.7},{"x":81.46,"y":0.5},{"x":81.55,"y":1.1},{"x":81.62,"y":0.6},{"x":81.72,"y":0.4},{"x":81.82,"y":0.8},{"x":81.90,"y":0.3},{"x":82.00,"y":0.2},{"x":82.08,"y":0.8},{"x":82.14,"y":1.2},{"x":82.20,"y":1.7},{"x":82.28,"y":3.0},{"x":82.36,"y":4.1},{"x":82.44,"y":3.5},{"x":82.52,"y":3.1},{"x":82.58,"y":2.4},{"x":82.64,"y":1.7},{"x":82.72,"y":0.9},{"x":82.80,"y":0.1},{"x":82.90,"y":0.3},{"x":83.00,"y":0.2},{"x":83.10,"y":0.5},{"x":83.20,"y":0.3},{"x":83.30,"y":0.4},{"x":83.40,"y":0.6},{"x":83.50,"y":0.3},{"x":83.60,"y":0.5},{"x":83.70,"y":0.4},{"x":83.80,"y":0.6},{"x":83.90,"y":0.4},{"x":83.98,"y":0.8},{"x":84.07,"y":1.5},{"x":84.15,"y":2.0},{"x":84.22,"y":2.5},{"x":84.28,"y":2.5},{"x":84.36,"y":2.3},{"x":84.44,"y":2.6},{"x":84.51,"y":2.5},{"x":84.59,"y":2.0},{"x":84.67,"y":1.5},{"x":84.78,"y":0.9},{"x":84.90,"y":0.4},{"x":85.00,"y":0.2},{"x":85.10,"y":0.5},{"x":85.20,"y":0.3},{"x":85.30,"y":0.4},{"x":85.40,"y":0.2},{"x":85.50,"y":0.4},{"x":85.60,"y":0.2},{"x":85.70,"y":0.6},{"x":85.80,"y":0.3},{"x":85.90,"y":0.5},{"x":86.00,"y":0.4},{"x":86.10,"y":0.8},{"x":86.20,"y":0.5},{"x":86.30,"y":0.7},{"x":86.40,"y":0.8},{"x":86.50,"y":0.4},{"x":86.60,"y":0.6},{"x":86.70,"y":0.3},{"x":86.80,"y":0.5},{"x":86.90,"y":0.2},{"x":87.00,"y":0.4},{"x":87.10,"y":0.2},{"x":87.20,"y":0.5},{"x":87.30,"y":0.3},{"x":87.40,"y":0.4},{"x":87.50,"y":0.1},{"x":87.60,"y":0.3},{"x":87.70,"y":0.2},{"x":87.80,"y":0.4},{"x":87.94,"y":0.1},{"x":88.05,"y":0.3},{"x":88.15,"y":0.2},{"x":88.25,"y":0.5},{"x":88.35,"y":0.3},{"x":88.45,"y":0.4},{"x":88.55,"y":0.2},{"x":88.64,"y":0.3},{"x":88.75,"y":0.5},{"x":88.87,"y":0.8},{"x":88.98,"y":1.0},{"x":89.08,"y":1.3},{"x":89.18,"y":1.6},{"x":89.28,"y":2.0},{"x":89.37,"y":2.3},{"x":89.42,"y":4.0},{"x":89.46,"y":5.7},{"x":89.52,"y":6.3},{"x":89.57,"y":6.5},{"x":89.62,"y":6.0},{"x":89.68,"y":5.7},{"x":89.75,"y":4.5},{"x":89.81,"y":3.6},{"x":89.87,"y":2.5},{"x":89.93,"y":1.7},
{"x":90.00,"y":1.0},{"x":90.07,"y":0.5},{"x":90.15,"y":0.3},{"x":90.25,"y":0.2},{"x":90.35,"y":0.0},{"x":90.45,"y":0.3},{"x":90.52,"y":0.8},{"x":90.59,"y":1.2},{"x":90.65,"y":2.5},{"x":90.70,"y":3.5},{"x":90.76,"y":2.7},{"x":90.82,"y":1.7},{"x":90.90,"y":1.4},{"x":90.97,"y":1.2},{"x":91.05,"y":1.06},{"x":91.15,"y":0.5},{"x":91.29,"y":0.0},{"x":91.40,"y":0.3},{"x":91.50,"y":0.2},{"x":91.60,"y":0.4},{"x":91.70,"y":0.3},{"x":91.80,"y":0.5},{"x":91.90,"y":0.2},{"x":92.00,"y":0.4},{"x":92.10,"y":0.3},{"x":92.20,"y":0.5},{"x":92.30,"y":0.2},{"x":92.40,"y":0.4},{"x":92.50,"y":0.3},{"x":92.60,"y":0.5},{"x":92.70,"y":0.2},{"x":92.80,"y":0.4},{"x":92.90,"y":0.3},{"x":93.00,"y":0.5},{"x":93.10,"y":0.4},{"x":93.20,"y":0.7},{"x":93.30,"y":1.06},{"x":93.40,"y":0.6},{"x":93.50,"y":0.4},{"x":93.60,"y":0.5},{"x":93.70,"y":0.2},{"x":93.80,"y":0.4},{"x":93.90,"y":0.3},{"x":94.00,"y":0.5},{"x":94.10,"y":0.2},{"x":94.20,"y":0.4},{"x":94.30,"y":0.3},{"x":94.40,"y":0.5},{"x":94.50,"y":0.2},{"x":94.60,"y":0.4},{"x":94.70,"y":0.3},{"x":94.80,"y":0.4},{"x":94.90,"y":0.2},{"x":95.03,"y":0.0},{"x":95.10,"y":1.2},{"x":95.18,"y":3.3},{"x":95.26,"y":4.2},{"x":95.34,"y":4.8},{"x":95.40,"y":4.2},{"x":95.45,"y":3.0},{"x":95.50,"y":2.0},{"x":95.60,"y":1.9},{"x":95.70,"y":1.7},{"x":95.81,"y":1.5},{"x":95.90,"y":1.8},{"x":95.97,"y":3.0},{"x":96.04,"y":4.1},{"x":96.10,"y":3.7},{"x":96.15,"y":2.8},{"x":96.20,"y":2.3},{"x":96.30,"y":1.8},{"x":96.43,"y":1.2},{"x":96.55,"y":0.7},{"x":96.66,"y":0.4},{"x":96.76,"y":0.5},{"x":96.86,"y":0.6},{"x":96.96,"y":0.9},{"x":97.05,"y":1.2},{"x":97.13,"y":2.0},{"x":97.21,"y":2.7},{"x":97.28,"y":1.8},{"x":97.36,"y":1.3},{"x":97.44,"y":0.9},{"x":97.55,"y":0.4},{"x":97.67,"y":0.0},{"x":97.78,"y":0.3},{"x":97.90,"y":0.5},{"x":98.00,"y":0.4},{"x":98.12,"y":0.5},{"x":98.22,"y":0.4},{"x":98.32,"y":0.3},{"x":98.42,"y":0.4},{"x":98.52,"y":0.3},{"x":98.62,"y":0.4},{"x":98.72,"y":0.3},{"x":98.82,"y":0.2},{"x":98.92,"y":0.4},{"x":99.02,"y":0.3},{"x":99.12,"y":0.8},{"x":99.20,"y":0.4},{"x":99.30,"y":0.4},{"x":99.40,"y":0.3},{"x":99.50,"y":0.6},{"x":99.60,"y":0.5},{"x":99.70,"y":0.3},{"x":99.78,"y":0.2},{"x":99.88,"y":0.4}
      ]},
      "mark": {"type": "line", "color": "black", "strokeWidth": 4, "clip": false},
      "encoding": {}
    },
    {
      "data": {"values": [{"x": 93.5, "x2": 99.86, "y": 126.1, "y2": 147.44}]},
      "mark": {"type": "rect", "fill": "white", "stroke": "black", "strokeWidth": 3.5, "clip": false},
      "encoding": {"x2": {"field": "x2"}, "y2": {"field": "y2"}}
    },
    {
      "data": {"values": [{"x": 96.46, "y": 134.66, "label": "S3"}]},
      "mark": {"type": "text", "font": "Liberation Serif, serif", "fontSize": 104, "color": "black", "align": "center", "baseline": "alphabetic", "clip": false},
      "encoding": {"text": {"field": "label", "type": "nominal"}}
    }
  ]
}
